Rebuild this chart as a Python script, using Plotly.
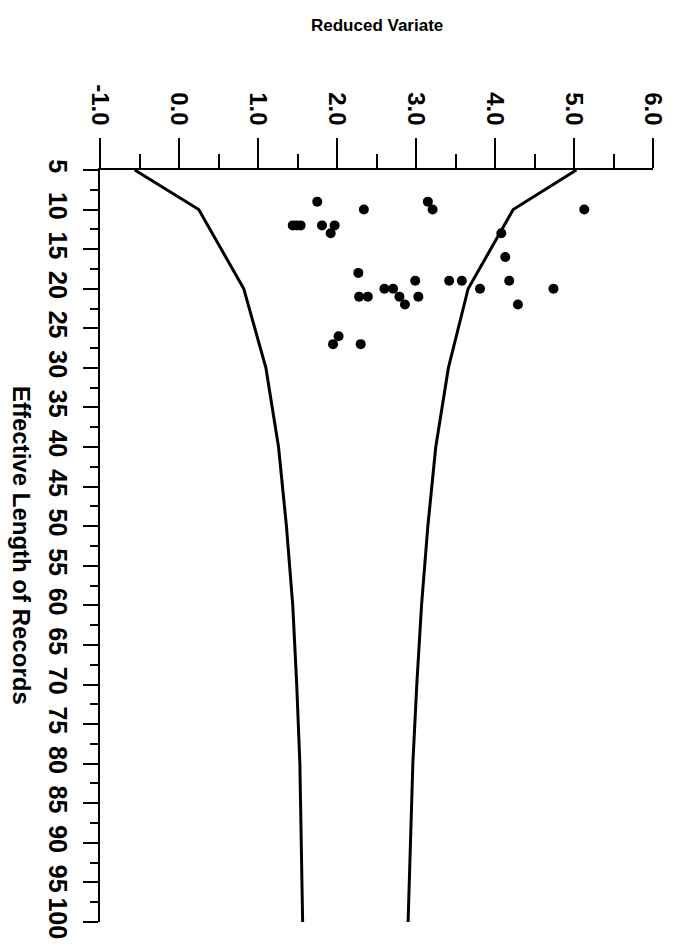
import plotly.graph_objects as go

# Confidence band for the reduced variate vs. effective record length
record_length = [5, 10, 20, 30, 40, 50, 60, 70, 80, 90, 100]
lower_limit = [-0.56, 0.25, 0.82, 1.10, 1.26, 1.36, 1.44, 1.49, 1.53, 1.55, 1.565]
upper_limit = [5.03, 4.23, 3.66, 3.41, 3.25, 3.15, 3.07, 3.01, 2.96, 2.93, 2.90]

# Observed stations: effective length and reduced variate of the largest event
station_length = [9, 9, 10, 10, 10, 12, 12, 12, 12, 12, 13, 13, 16, 18, 19, 19, 19, 19,
                  20, 20, 20, 20, 21, 21, 21, 21, 22, 22, 26, 27, 27]
station_variate = [1.75, 3.15, 2.34, 3.21, 5.13, 1.44, 1.49, 1.54, 1.81, 1.97, 1.92, 4.08,
                   4.13, 2.27, 2.99, 3.42, 3.58, 4.18, 2.60, 2.71, 3.81, 4.74, 2.28, 2.39,
                   2.79, 3.03, 2.86, 4.29, 2.02, 1.95, 2.30]

variate_ticks = [-1, 0, 1, 2, 3, 4, 5, 6]
variate_labels = ["-1.0", "0.0", "1.0", "2.0", "3.0", "4.0", "5.0", "6.0"]
length_ticks = list(range(5, 101, 5))
length_labels = [str(v) for v in length_ticks]

FONT = "Liberation Sans, Arial, sans-serif"

fig = go.Figure()
for limit in (lower_limit, upper_limit):
    fig.add_trace(go.Scatter(
        x=limit, y=record_length, mode="lines",
        line=dict(color="black", width=3), cliponaxis=False, hoverinfo="skip",
    ))
fig.add_trace(go.Scatter(
    x=station_variate, y=station_length, mode="markers",
    marker=dict(color="black", size=10, line=dict(width=0)), cliponaxis=False,
))

fig.update_xaxes(
    side="top", range=[-1, 6], tickmode="array",
    tickvals=variate_ticks, ticktext=variate_labels, tickangle=90,
    ticks="outside", ticklen=30, tickwidth=1.5, tickcolor="black",
    ticklabelstandoff=4,
    minor=dict(ticks="outside", ticklen=14, dtick=0.5, tick0=-1,
               tickwidth=1.5, tickcolor="black", showgrid=False),
    showline=True, linecolor="black", linewidth=2,
    showgrid=False, zeroline=False,
    tickfont=dict(family=FONT, size=24, color="black", weight="bold"),
)
fig.update_yaxes(
    range=[100, 5], tickmode="array",
    tickvals=length_ticks, ticktext=length_labels, tickangle=90,
    ticks="outside", ticklen=15, tickwidth=1.5, tickcolor="black",
    ticklabelstandoff=4,
    minor=dict(ticks="outside", ticklen=8, dtick=2.5, tick0=5,
               tickwidth=1.5, tickcolor="black", showgrid=False),
    showline=True, linecolor="black", linewidth=2,
    showgrid=False, zeroline=False,
    tickfont=dict(family=FONT, size=25, color="black", weight="bold"),
)

fig.update_layout(
    width=679, height=952,
    margin=dict(l=100, r=19, t=170, b=30),
    plot_bgcolor="white", paper_bgcolor="white",
    showlegend=False,
    annotations=[
        dict(text="Reduced Variate", xref="paper", yref="paper",
             x=0.5, y=(922 - 25) / 752, xanchor="center", yanchor="middle",
             showarrow=False,
             font=dict(family=FONT, size=17, color="black", weight="bold")),
        dict(text="Effective Length of Records", xref="paper", yref="paper",
             x=(21 - 100) / 560, y=0.5, xanchor="center", yanchor="middle",
             textangle=90, showarrow=False,
             font=dict(family=FONT, size=24, color="black", weight="bold")),
    ],
)

fig.write_html("out.html")
